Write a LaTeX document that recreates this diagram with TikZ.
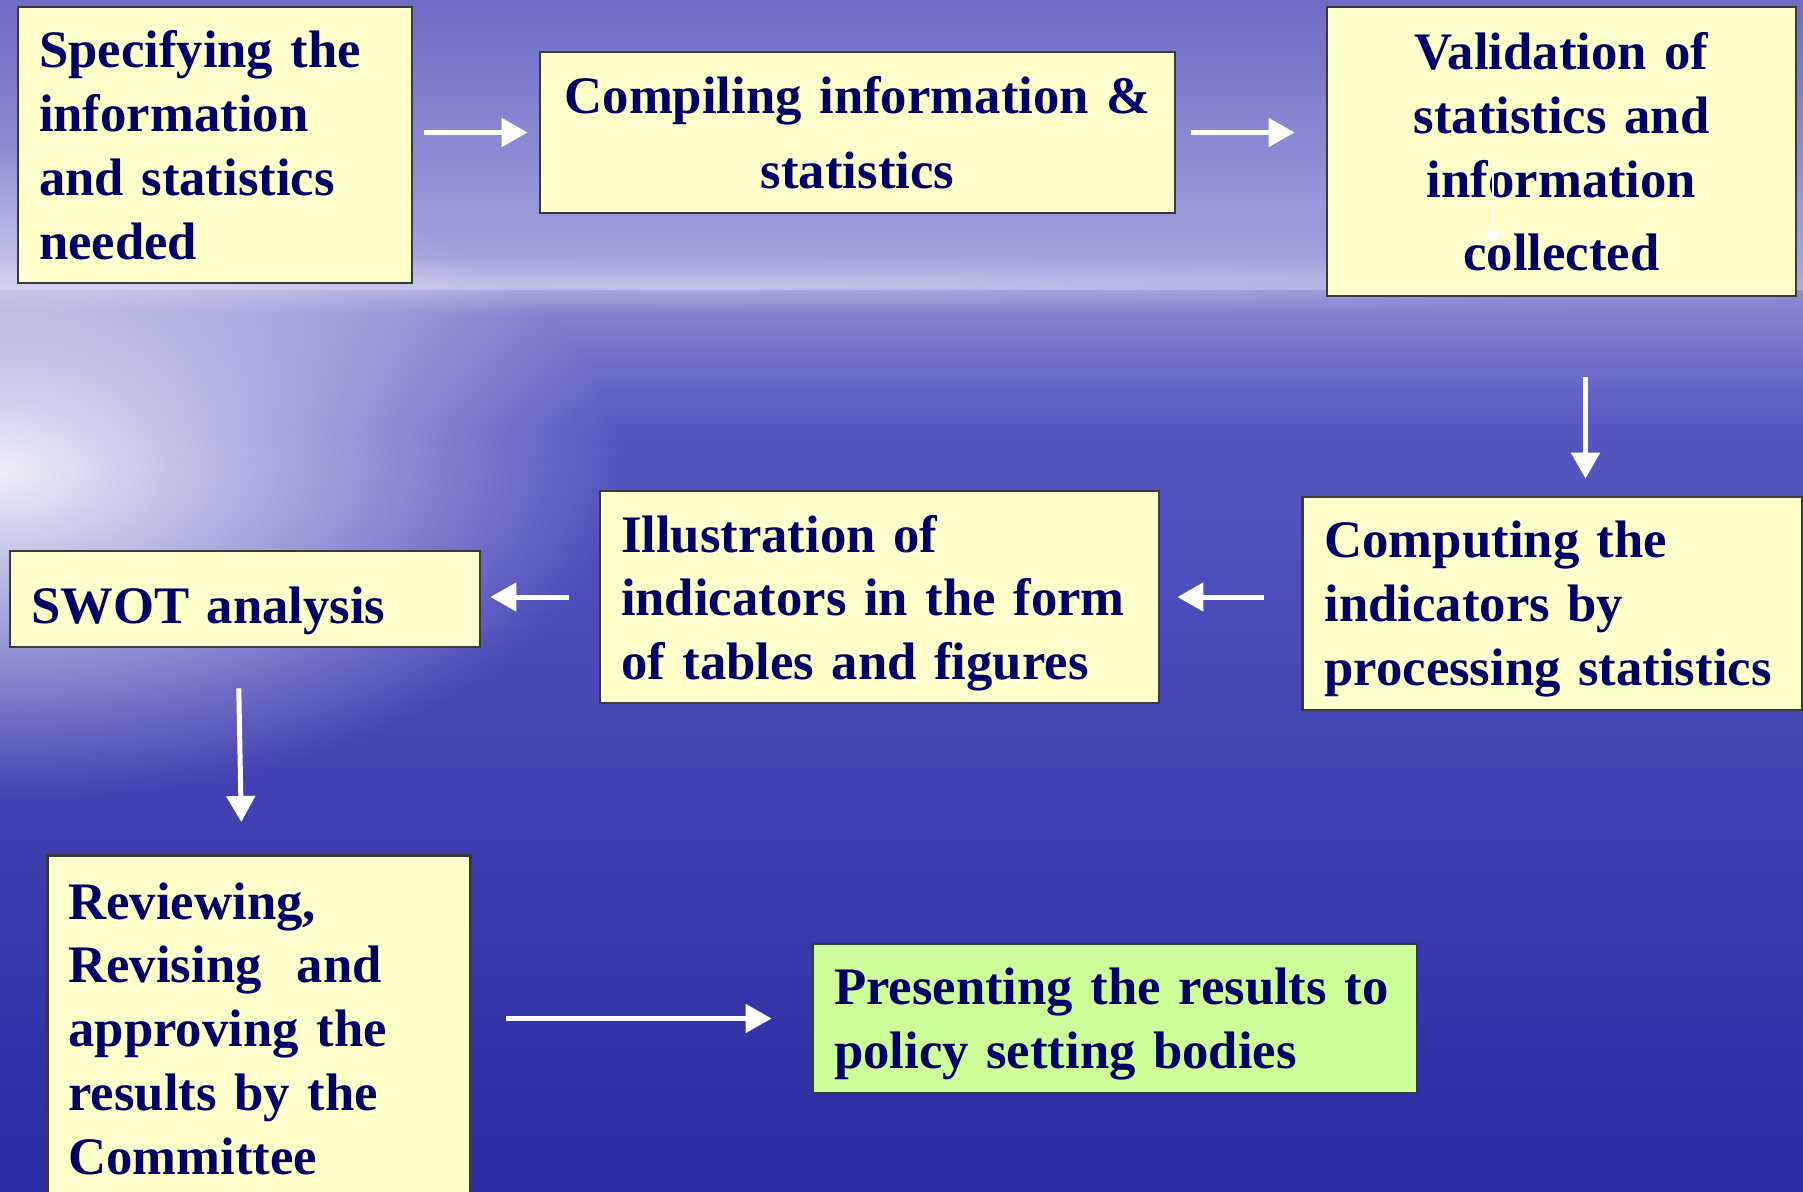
\documentclass[tikz,border=0pt]{standalone}
\usepackage{fontspec}
\setmainfont{Liberation Serif}
\usepackage{xcolor}
\usetikzlibrary{arrows.meta, calc, positioning, fadings}

\definecolor{skytop}{HTML}{6C6CC6}
\definecolor{horizon}{HTML}{A8A8E0}
\definecolor{seatop}{HTML}{8A8AD2}
\definecolor{seamid}{HTML}{5656C2}
\definecolor{seadeep}{HTML}{2A2AA2}
\definecolor{boxfill}{HTML}{FFFFCC}
\definecolor{greenfill}{HTML}{CCFF99}
\definecolor{navy}{HTML}{000066}
\definecolor{boxline}{HTML}{3A3A3A}

\tikzfading[name=glow, inner color=transparent!10, outer color=transparent!100]

\tikzset{
  stage/.style={draw=boxline, fill=boxfill, line width=0.8pt, text=navy, inner sep=0pt, align=left,
    font=\bfseries\fontsize{15pt}{18.2pt}\selectfont},
  flow/.style={draw=white, line width=0.5mm, -{Triangle[length=2.6mm, width=2.8mm]}},
}

\begin{document}
\begin{tikzpicture}[x=0.1mm, y=-0.1mm]
\useasboundingbox (0,0) rectangle (1803,1191);
\clip (0,0) rectangle (1803,1191);

% Sky and sea
\shade[top color=skytop, bottom color=horizon] (0,0) rectangle (1803,290);
\shade[top color=seatop, bottom color=seamid] (0,290) rectangle (1803,430);
\shade[top color=seamid, bottom color=seadeep] (0,430) rectangle (1803,1191);
\fill[white, opacity=0.35, path fading=glow] (700,285) ellipse (1300 and 30);
\fill[white, path fading=glow] (0,470) ellipse (620 and 330);

% Top row
\node[stage, minimum width=39.4mm, minimum height=27.6mm, text width=35.2mm] (spec) at (215,145)
  {Specifying the\\information\\and statistics\\needed};
\node[stage, minimum width=63.5mm, minimum height=16.1mm, text width=60mm, align=center,
  font=\bfseries\fontsize{15pt}{21.3pt}\selectfont] (comp) at (857.5,132.5)
  {Compiling information \&\\statistics};
\node[stage, minimum width=46.9mm, minimum height=28.9mm, text width=44mm, align=center] (val) at (1561.5,151.5)
  {Validation of\\statistics and\\information\\[0.9mm]collected};

% Middle row
\node[stage, minimum width=50mm, minimum height=21.3mm, text width=45.6mm, text height=13.5pt] (cmp) at (1552.5,603.5)
  {Computing the\\indicators by\\processing statistics};
\node[stage, minimum width=55.9mm, minimum height=21.2mm, text width=51.7mm, text height=14.1pt] (ill) at (879.5,597)
  {Illustration of\\indicators in the form\\of tables and figures};
\node[stage, minimum width=47mm, minimum height=9.6mm, text width=42.8mm, text height=13.7pt, text depth=0pt] (swot) at (245,599)
  {SWOT analysis};

% Bottom row
\node[stage, anchor=north west, minimum width=42.3mm, text width=38.1mm, inner ysep=2.7mm] (rev) at (46,854)
  {Reviewing,\\Revising\ \ and\\approving the\\results by the\\Committee};
\node[stage, fill=greenfill, minimum width=60.4mm, minimum height=14.9mm, text width=56.2mm, text height=13.5pt] (pres) at (1115,1018.5)
  {Presenting the results to\\policy setting bodies};

% Connectors
\draw[flow, shorten <=1.1mm, shorten >=1.1mm] (spec.east |- comp.west) -- (comp.west);
\draw[flow, shorten <=1.5mm, shorten >=3.1mm] (comp.east) -- (comp.east -| val.west);
\draw[flow, shorten <=8mm, shorten >=1.7mm] ([xshift=2.4mm]val.south) -- ([xshift=2.4mm]val.south |- cmp.north);
\draw[flow, shorten <=3.7mm, shorten >=1.7mm] (cmp.west |- ill.east) -- (ill.east);
\draw[flow, shorten <=3mm, shorten >=0.9mm] (ill.west) -- (ill.west -| swot.east);
\draw[flow, shorten <=4mm, shorten >=3.2mm] ([xshift=-0.7mm]swot.south) -- ([xshift=-1.7mm]rev.north);
\draw[flow, shorten <=3.4mm, shorten >=4mm] (pres.west -| rev.east) -- (pres.west);

% Stray mark in the validation box
\draw[white, line width=0.3pt, -{Triangle[length=1.3mm, width=1.5mm]}]
  ([xshift=-6.85mm, yshift=-0.55mm]val.center) -- ([xshift=-6.85mm, yshift=-9.35mm]val.center);
\end{tikzpicture}
\end{document}
